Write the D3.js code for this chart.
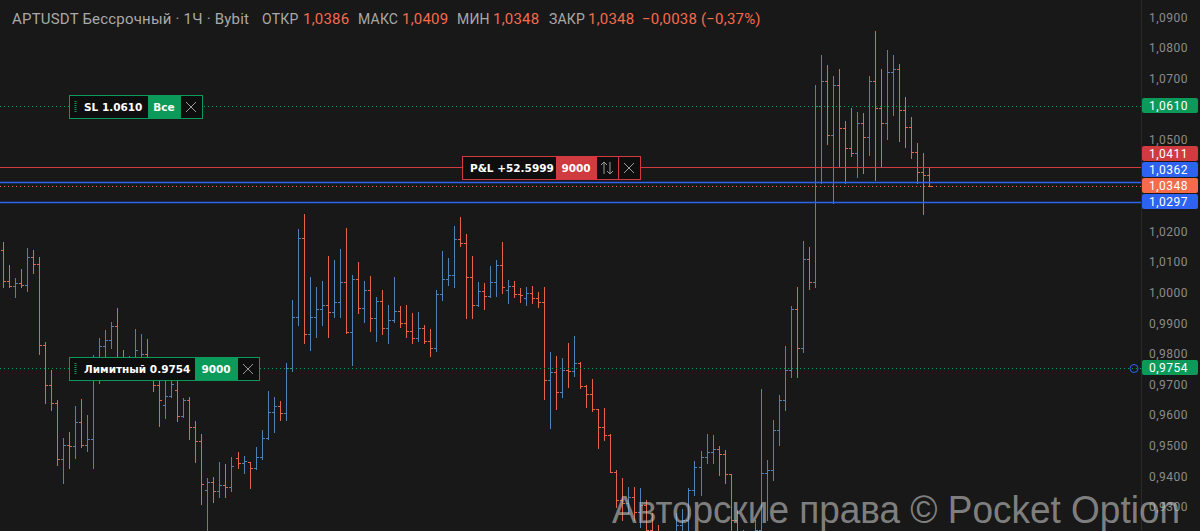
<!DOCTYPE html>
<html>
<head>
<meta charset="utf-8">
<script src="https://cdn.jsdelivr.net/npm/d3@7"></script>
<style>
  html, body { margin: 0; padding: 0; background: #181818; }
  svg { display: block; }
</style>
</head>
<body>
<div id="chart"></div>
<script>
var svgWidth = 1200;
var svgHeight = 531;
var plotRight = 1141;

// hourly bars, oldest first
var opens = [1.0140,1.0038,1.0022,1.0033,1.0025,1.0118,1.0094,0.9829,0.9698,0.9641,
  0.9457,0.9502,0.9499,0.9578,0.9502,0.9522,0.9741,0.9826,0.9845,0.9891,
  0.9780,0.9760,0.9787,0.9760,0.9799,0.9747,0.9698,0.9633,0.9662,0.9682,
  0.9597,0.9649,0.9560,0.9516,0.9355,0.9381,0.9352,0.9372,0.9365,0.9460,
  0.9442,0.9447,0.9427,0.9462,0.9525,0.9610,0.9630,0.9606,0.9753,0.9920,
  1.0178,0.9865,0.9922,0.9947,0.9960,0.9938,0.9971,1.0036,0.9873,1.0045,
  0.9949,1.0009,0.9918,0.9974,0.9884,0.9911,0.9941,0.9900,0.9876,0.9851,
  0.9884,0.9843,0.9818,0.9996,1.0044,1.0058,1.0175,1.0163,1.0050,0.9960,
  1.0007,0.9989,1.0036,1.0091,1.0009,1.0022,0.9996,0.9983,0.9999,0.9982,
  0.9971,0.9715,0.9742,0.9674,0.9747,0.9745,0.9771,0.9695,0.9668,0.9619,
  0.9560,0.9535,0.9415,0.9323,0.9313,0.9332,0.9284,0.9306,0.9225,0.9175,
  0.9143,0.9126,0.9175,0.9241,0.9257,0.9355,0.9431,0.9464,0.9480,0.9489,
  0.9473,0.9408,0.9257,0.9175,0.9126,0.9159,0.9225,0.9410,0.9420,0.9551,
  0.9649,0.9747,0.9946,0.9818,1.0109,1.0036,1.0610,1.0693,1.0515,1.0679,
  1.0537,1.0472,1.0456,1.0556,1.0508,1.0693,1.0603,1.0554,1.0720,1.0730,
  1.0599,1.0541,1.0459,1.0395,1.0386];

var highs = [1.0167,1.0091,1.0047,1.0076,1.0145,1.0140,1.0118,0.9840,0.9747,0.9649,
  0.9524,0.9546,0.9630,0.9652,0.9600,0.9796,0.9851,0.9878,0.9905,0.9949,
  0.9813,0.9793,0.9880,0.9864,0.9848,0.9780,0.9764,0.9721,0.9741,0.9731,
  0.9655,0.9658,0.9582,0.9538,0.9393,0.9399,0.9448,0.9440,0.9464,0.9480,
  0.9467,0.9448,0.9497,0.9551,0.9680,0.9658,0.9646,0.9771,0.9976,1.0207,
  1.0259,1.0052,1.0020,1.0039,1.0120,1.0107,1.0142,1.0210,1.0058,1.0101,
  1.0038,1.0055,0.9985,1.0009,0.9960,1.0050,0.9957,0.9960,0.9935,0.9938,
  0.9894,0.9880,1.0009,1.0137,1.0112,1.0218,1.0248,1.0192,1.0120,1.0036,
  1.0033,1.0087,1.0107,1.0167,1.0042,1.0039,1.0014,1.0018,1.0022,1.0003,
  1.0018,0.9807,0.9793,0.9788,0.9835,0.9859,0.9775,0.9698,0.9718,0.9620,
  0.9622,0.9538,0.9421,0.9393,0.9366,0.9364,0.9362,0.9323,0.9280,0.9241,
  0.9192,0.9208,0.9280,0.9293,0.9362,0.9450,0.9484,0.9538,0.9535,0.9499,
  0.9486,0.9408,0.9290,0.9225,0.9192,0.9257,0.9684,0.9453,0.9584,0.9666,
  0.9826,0.9957,1.0018,1.0170,1.0148,1.0679,1.0777,1.0744,1.0708,1.0730,
  1.0562,1.0603,1.0590,1.0586,1.0708,1.0855,1.0733,1.0795,1.0777,1.0747,
  1.0639,1.0573,1.0488,1.0456,1.0409];

var lows = [1.0020,1.0018,0.9985,1.0018,1.0006,1.0065,0.9800,0.9639,0.9617,0.9437,
  0.9379,0.9426,0.9461,0.9497,0.9484,0.9426,0.9704,0.9791,0.9818,0.9754,
  0.9741,0.9731,0.9747,0.9741,0.9721,0.9680,0.9565,0.9592,0.9659,0.9581,
  0.9595,0.9521,0.9448,0.9309,0.9192,0.9317,0.9331,0.9331,0.9353,0.9426,
  0.9410,0.9361,0.9423,0.9456,0.9521,0.9546,0.9584,0.9584,0.9745,0.9894,
  0.9835,0.9813,0.9856,0.9894,0.9854,0.9922,0.9922,0.9869,0.9764,0.9935,
  0.9905,0.9876,0.9843,0.9865,0.9835,0.9905,0.9887,0.9854,0.9835,0.9843,
  0.9835,0.9793,0.9810,0.9976,1.0025,1.0020,1.0153,0.9918,0.9918,0.9957,
  0.9946,0.9987,0.9989,1.0000,0.9967,0.9987,0.9971,0.9960,0.9967,0.9954,
  0.9652,0.9559,0.9619,0.9658,0.9691,0.9728,0.9688,0.9627,0.9613,0.9492,
  0.9519,0.9413,0.9301,0.9257,0.9279,0.9257,0.9235,0.9175,0.9143,0.9110,
  0.9077,0.9094,0.9126,0.9175,0.9192,0.9339,0.9339,0.9442,0.9444,0.9404,
  0.9377,0.9192,0.9126,0.9077,0.9061,0.9110,0.9175,0.9257,0.9388,0.9502,
  0.9617,0.9726,0.9724,0.9807,1.0011,1.0020,1.0358,1.0486,1.0292,1.0410,
  1.0358,1.0447,1.0377,1.0390,1.0450,1.0368,1.0414,1.0501,1.0581,1.0497,
  1.0477,1.0439,1.0358,1.0257,1.0348];

var closes = [1.0038,1.0022,1.0033,1.0025,1.0118,1.0094,0.9829,0.9698,0.9641,0.9457,
  0.9502,0.9499,0.9578,0.9502,0.9522,0.9741,0.9826,0.9845,0.9891,0.9780,
  0.9760,0.9787,0.9813,0.9799,0.9747,0.9698,0.9649,0.9662,0.9702,0.9597,
  0.9649,0.9560,0.9516,0.9375,0.9381,0.9352,0.9372,0.9365,0.9434,0.9442,
  0.9450,0.9427,0.9462,0.9525,0.9610,0.9630,0.9606,0.9753,0.9920,1.0178,
  0.9865,0.9922,0.9947,0.9960,0.9938,0.9971,1.0036,0.9873,1.0045,0.9949,
  1.0009,0.9918,0.9974,0.9884,0.9911,0.9941,0.9900,0.9876,0.9851,0.9884,
  0.9843,0.9818,0.9996,1.0044,1.0058,1.0175,1.0163,1.0050,0.9960,1.0007,
  0.9989,1.0036,1.0091,1.0018,1.0022,0.9996,0.9994,0.9999,0.9982,0.9971,
  0.9715,0.9742,0.9674,0.9747,0.9745,0.9771,0.9695,0.9668,0.9619,0.9560,
  0.9535,0.9415,0.9323,0.9313,0.9332,0.9284,0.9306,0.9225,0.9175,0.9143,
  0.9126,0.9175,0.9241,0.9257,0.9355,0.9431,0.9464,0.9480,0.9489,0.9473,
  0.9408,0.9257,0.9175,0.9126,0.9159,0.9225,0.9410,0.9420,0.9551,0.9649,
  0.9747,0.9946,0.9818,1.0109,1.0036,1.0610,1.0693,1.0515,1.0679,1.0537,
  1.0472,1.0456,1.0556,1.0508,1.0693,1.0603,1.0554,1.0720,1.0730,1.0599,
  1.0541,1.0459,1.0395,1.0386,1.0348];

// order / price lines
var slPrice = 1.0610;
var entryPrice = 1.0411;
var bluePrices = [1.0362, 1.0297];
var limitPrice = 0.9754;
var qty = "9000";
var pnlText = "P&L +52.5999";
var yTickValues = d3.range(93, 110).map(d => d / 100);

var upColor = "#4f83b8";
var downColor = "#e5654b";
var green = "#0c9a5a";
var red = "#cf3b3f";
var blue = "#2d63f0";
var orange = "#f56b4c";

var ru = d3.formatLocale({decimal: ",", thousands: " ", grouping: [3], currency: ["", ""], minus: "\u2212"});
var f4 = ru.format(".4f");
var fPct = ru.format(".2f");

var bars = opens.map((o, i) => ({i: i, o: o, h: highs[i], l: lows[i], c: closes[i]}));

var x = d3.scaleLinear().domain([0, bars.length - 1]).range([3, 929]);
var y = d3.scaleLinear().domain([0.9221, 1.0957]).range([svgHeight, 0]);

var svg = d3.select("#chart").append("svg")
  .attr("width", svgWidth)
  .attr("height", svgHeight);

svg.append("rect").attr("width", svgWidth).attr("height", svgHeight).attr("fill", "#181818");

svg.append("defs").append("clipPath").attr("id", "plot")
  .append("rect").attr("width", plotRight).attr("height", svgHeight);

var plot = svg.append("g").attr("clip-path", "url(#plot)");

// bars
var barG = plot.selectAll("g.bar").data(bars).enter().append("g")
  .attr("stroke", d => d.c >= d.o ? upColor : downColor)
  .attr("stroke-width", 1);

var px = d => Math.round(x(d.i));
var py = v => Math.round(y(v)) + 0.5;

barG.append("line")
  .attr("x1", d => px(d) + 0.5).attr("x2", d => px(d) + 0.5)
  .attr("y1", d => Math.round(y(d.h))).attr("y2", d => Math.round(y(d.l)) + 1);
barG.append("line")
  .attr("x1", d => px(d) - 2).attr("x2", d => px(d))
  .attr("y1", d => py(d.o)).attr("y2", d => py(d.o));
barG.append("line")
  .attr("x1", d => px(d) + 1).attr("x2", d => px(d) + 3)
  .attr("y1", d => py(d.c)).attr("y2", d => py(d.c));

var last = bars[bars.length - 1];
var prevClose = bars[bars.length - 2].c;

// horizontal price lines
function hline(v, color, dash, w) {
  plot.append("line")
    .attr("x1", 0).attr("x2", plotRight)
    .attr("y1", py(v)).attr("y2", py(v))
    .attr("stroke", color).attr("stroke-width", w || 1)
    .attr("stroke-dasharray", dash || null);
}
hline(slPrice, green, "1,3");
hline(limitPrice, green, "1,3");
hline(entryPrice, red);
bluePrices.forEach(v => hline(v, blue, null, 1.5));
hline(last.c, orange, "1,3");

// order boxes
function orderBox(x0, v, label, cells, border) {
  var top = Math.round(y(v)) - 11;
  var g = svg.append("g").attr("transform", `translate(${x0},${top})`);
  var w = d3.sum(cells, c => c.w) + label.w;
  g.append("rect").attr("x", 0.5).attr("y", 0.5).attr("width", w + 1).attr("height", 23)
    .attr("fill", "#0e0e0e").attr("stroke", border);
  if (label.handle) {
    g.append("line").attr("x1", 6.5).attr("x2", 6.5).attr("y1", 6).attr("y2", 18)
      .attr("stroke", border).attr("stroke-width", 2).attr("stroke-dasharray", "1,1");
  }
  g.append("text").attr("x", label.tx).attr("y", 16)
    .attr("fill", "#ffffff").style("font", "bold 10.5px 'DejaVu Sans'")
    .text(label.text);
  var cx = label.w + 1;
  cells.forEach(c => {
    if (c.fill) g.append("rect").attr("x", cx).attr("y", 1).attr("width", c.w).attr("height", 22).attr("fill", c.fill);
    else g.append("line").attr("x1", cx + 0.5).attr("x2", cx + 0.5).attr("y1", 1).attr("y2", 23).attr("stroke", border);
    if (c.text) {
      g.append("text").attr("x", cx + c.w / 2).attr("y", 16).attr("text-anchor", "middle")
        .attr("fill", "#ffffff").style("font", "bold 10.5px 'DejaVu Sans'").text(c.text);
    }
    if (c.icon === "x") {
      var m = cx + c.w / 2, n = 12;
      g.append("path").attr("d", `M${m - 5},${n - 5}L${m + 5},${n + 5}M${m + 5},${n - 5}L${m - 5},${n + 5}`)
        .attr("stroke", "#9a9a9a").attr("stroke-width", 1);
    }
    if (c.icon === "arrows") {
      var a = cx + c.w / 2;
      g.append("path").attr("d", `M${a - 3},6V18M${a - 6},9L${a - 3},6L${a},9M${a + 3},6V18M${a},15L${a + 3},18L${a + 6},15`)
        .attr("stroke", "#9a9a9a").attr("stroke-width", 1).attr("fill", "none");
    }
    cx += c.w;
  });
}

orderBox(69, slPrice, {text: "SL " + slPrice.toFixed(4), w: 78, tx: 15, handle: true},
  [{w: 32, fill: green, text: "Все"}, {w: 22, icon: "x"}], green);
orderBox(462, entryPrice, {text: pnlText, w: 93, tx: 8},
  [{w: 40, fill: red, text: qty}, {w: 22, icon: "arrows"}, {w: 22, icon: "x"}], red);
orderBox(69, limitPrice, {text: "Лимитный " + limitPrice.toFixed(4), w: 125, tx: 15, handle: true},
  [{w: 42, fill: green, text: qty}, {w: 22, icon: "x"}], green);

// price scale
svg.append("line").attr("x1", plotRight + 0.5).attr("x2", plotRight + 0.5)
  .attr("y1", 0).attr("y2", svgHeight).attr("stroke", "#2a2a2a");

var tags = [
  {v: slPrice, color: green},
  {v: entryPrice, color: red},
  {v: bluePrices[0], color: blue},
  {v: last.c, color: orange, fixed: true},
  {v: bluePrices[1], color: blue},
  {v: limitPrice, color: green}
];
var tagH = 16;
tags.forEach(t => t.cy = y(t.v));
var fi = tags.findIndex(t => t.fixed);
for (var j = fi - 1; j >= 0; j--) tags[j].cy = Math.min(tags[j].cy, tags[j + 1].cy - tagH);
for (var k = fi + 1; k < tags.length; k++) tags[k].cy = Math.max(tags[k].cy, tags[k - 1].cy + tagH);

var shownTicks = yTickValues.filter(v => tags.every(t => Math.abs(y(v) - t.cy) > 12));

var scaleFont = "12px Roboto";
var axis = svg.append("g").attr("transform", `translate(${plotRight + 8},0)`)
  .call(d3.axisRight(y).tickValues(shownTicks).tickSize(0).tickPadding(0).tickFormat(f4));
axis.select(".domain").remove();
axis.selectAll("text").attr("fill", "#8b8b8b").style("font", scaleFont).style("letter-spacing", "0.5px");

var tagG = svg.selectAll("g.tag").data(tags).enter().append("g")
  .attr("transform", d => `translate(${plotRight + 1},${Math.round(d.cy - tagH / 2)})`);
tagG.append("rect").attr("width", 56).attr("height", tagH - 1).attr("rx", 2).attr("fill", d => d.color);
tagG.append("text").attr("x", 7).attr("y", 11.5).attr("fill", "#ffffff")
  .style("font", scaleFont).style("letter-spacing", "0.5px").text(d => f4(d.v));

svg.append("circle").attr("cx", 1134).attr("cy", py(limitPrice)).attr("r", 4)
  .attr("fill", "none").attr("stroke", blue).attr("stroke-width", 1);

// legend line
var chg = last.c - prevClose;
var legendItems = [
  {t: "APTUSDT Бессрочный · 1Ч · Bybit", x: 12, c: "#a9a9a9", s: 15},
  {t: "ОТКР", x: 262, c: "#a9a9a9", s: 14}, {t: f4(last.o), x: 303, c: orange, s: 15},
  {t: "МАКС", x: 358, c: "#a9a9a9", s: 14}, {t: f4(last.h), x: 402, c: orange, s: 15},
  {t: "МИН", x: 457, c: "#a9a9a9", s: 14}, {t: f4(last.l), x: 493, c: orange, s: 15},
  {t: "ЗАКР", x: 549, c: "#a9a9a9", s: 14}, {t: f4(last.c), x: 588, c: orange, s: 15},
  {t: f4(chg) + " (" + fPct(chg / prevClose * 100) + "%)", x: 642, c: orange, s: 15}
];
svg.selectAll("text.legend").data(legendItems).enter().append("text")
  .attr("class", "legend")
  .attr("x", d => d.x).attr("y", 24)
  .attr("fill", d => d.c)
  .style("font", d => d.s + "px Roboto")
  .style("letter-spacing", "0.2px")
  .text(d => d.t);

// watermark
svg.append("text").attr("x", 612).attr("y", 523)
  .attr("fill", "#c4c4c4").attr("fill-opacity", 0.62)
  .attr("textLength", 568).attr("lengthAdjust", "spacingAndGlyphs")
  .style("font", "38px 'Liberation Sans'")
  .text("Авторские права © Pocket Option");
</script>
</body>
</html>
